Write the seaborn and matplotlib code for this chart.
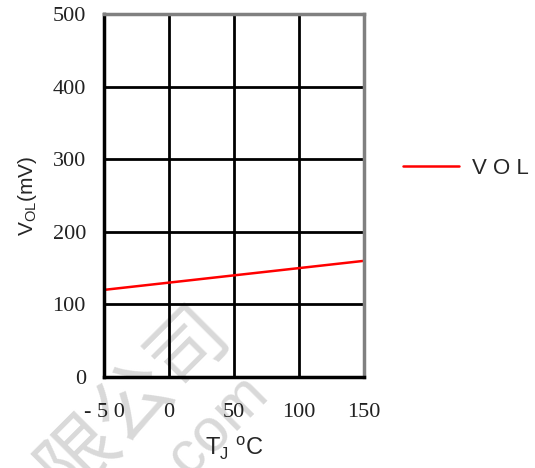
import matplotlib
matplotlib.use("Agg")
import matplotlib.pyplot as plt
import seaborn as sns
import pandas as pd

# Output low-level voltage versus junction temperature
temps = [-50, 0, 50, 100, 150]
vol_mv = [120, 130, 140, 150, 160]
x_tick_labels = ["- 5 0", "0", "50", "100", "150"]
y_ticks = [0, 100, 200, 300, 400, 500]

df = pd.DataFrame({"TJ": temps, "VOL": vol_mv})

sns.set_theme(style="white")
plt.rcParams["font.family"] = ["Liberation Sans", "DejaVu Sans"]

fig = plt.figure(figsize=(5.35, 4.68), dpi=100)
ax = fig.add_axes([104 / 535, 1 - 377 / 468, 260 / 535, 363 / 468])
ax.patch.set_alpha(0)

sns.lineplot(data=df, x="TJ", y="VOL", ax=ax, color="#ff0000", linewidth=1.8,
             label="V O L", legend=False)

ax.set_xlim(-50, 150)
ax.set_ylim(0, 500)
ax.set_xticks(temps)
ax.set_xticklabels(x_tick_labels)
ax.set_yticks(y_ticks)
ax.set_yticklabels([str(v) for v in y_ticks])

ax.grid(True, color="black", linewidth=2.0)
ax.set_axisbelow(True)
ax.tick_params(length=0)
for lab in ax.get_xticklabels() + ax.get_yticklabels():
    lab.set_family("Liberation Serif")
    lab.set_fontsize(16)
    lab.set_color("#222222")
ax.tick_params(axis="x", pad=19)
ax.tick_params(axis="y", pad=13)

for side in ["left", "bottom"]:
    ax.spines[side].set_color("black")
    ax.spines[side].set_linewidth(2.5)
for side in ["top", "right"]:
    ax.spines[side].set_color("#808080")
    ax.spines[side].set_linewidth(2.5)

ax.set_xlabel(r"T$_\mathregular{J}$ $^\mathregular{o}$C", fontsize=17, labelpad=9)
ax.set_ylabel(r"V$_\mathregular{OL}$(mV)", fontsize=15, labelpad=10)

# Legend placed to the right of the plot area
fig.legend(handles=ax.get_lines(), labels=["V O L"], loc="center left",
           bbox_to_anchor=(383 / 535, 1 - 168 / 468), frameon=False,
           fontsize=16, handlelength=2.5, handletextpad=0.6)

# Faint watermark across the lower left, kept behind the plot
wm_font = ["Noto Sans CJK SC", "DejaVu Sans"]
fig.text(135 / 535, 1 - 400 / 468, "限公司", fontsize=56, color="#d9d9d9",
         rotation=45, ha="center", va="center", zorder=-1, family=wm_font)
fig.text(212 / 535, 1 - 430 / 468, ".com", fontsize=44, color="#d9d9d9",
         rotation=45, ha="center", va="center", zorder=-1)

fig.savefig("out.png", dpi=100)
